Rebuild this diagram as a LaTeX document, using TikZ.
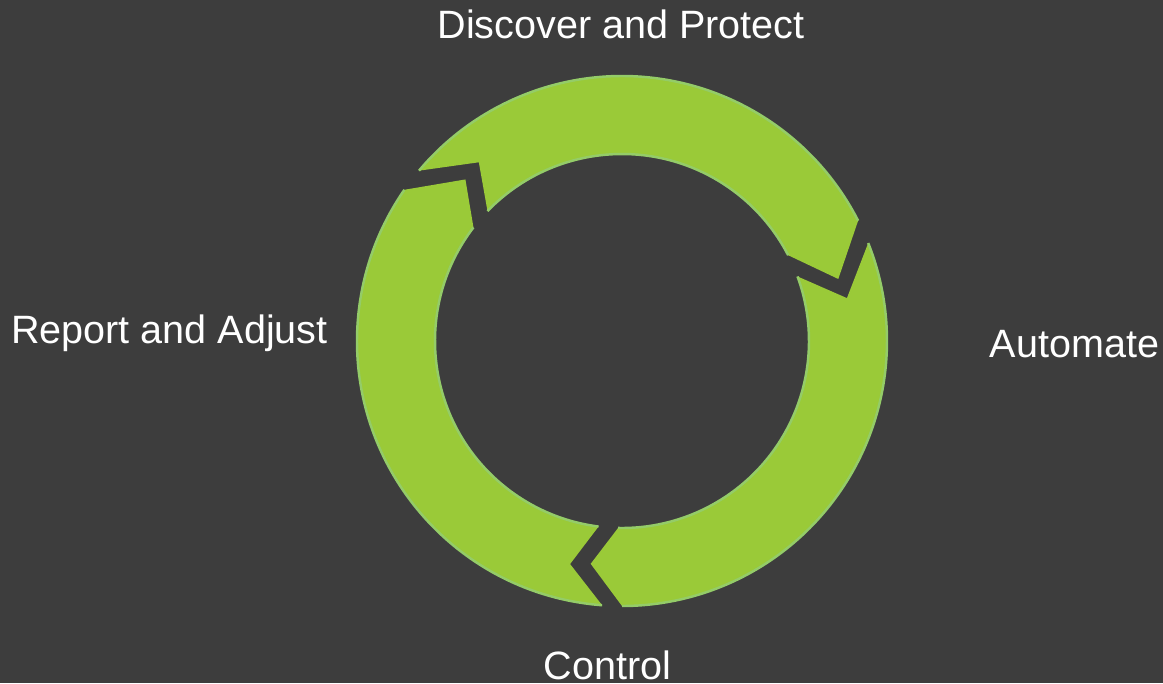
\documentclass[tikz,border=0pt]{standalone}
\usepackage{fontspec}
\setmainfont{Liberation Sans}
\definecolor{bggray}{RGB}{61,61,61}
\definecolor{ringgreen}{RGB}{154,202,56}
\definecolor{ringedge}{RGB}{148,204,104}
\tikzset{
  steplabel/.style={text=white, inner sep=0pt, anchor=base, font=\fontsize{11.25}{13.5}\selectfont},
  ringpart/.style={fill=ringgreen},
  ringline/.style={draw=ringedge, line width=0.7pt}
}
\begin{document}
\begin{tikzpicture}

		\def \rout {2.65};
		\def \rin {1.87};
		\def \rtip {2.25};
		\def \rnch {2.29};

		\fill[bggray] (0,0) rectangle (11.63,6.83);
		\coordinate (c) at (6.22,3.42);

		% tail out / head out / tip / head in / tail in / notch
		\foreach \tlo/\hdo/\tp/\hdi/\tli/\nch in {140/27/16/27.3/136/128.7, 21.7/-90/-98/-91.2/20.2/10.8, -94.3/-214.8/-225.9/-217.4/-97.2/-103.1} {
		    \fill[ringpart, shift={(c)}] (\tlo:\rout) arc[start angle=\tlo, end angle=\hdo, radius=\rout]
		        -- (\tp:\rtip) -- (\hdi:\rin) arc[start angle=\hdi, end angle=\tli, radius=\rin]
		        -- (\nch:\rnch) -- cycle;
		    \draw[ringline, shift={(c)}] (\tlo:\rout) arc[start angle=\tlo, end angle=\hdo, radius=\rout];
		    \draw[ringline, shift={(c)}] (\hdi:\rin) arc[start angle=\hdi, end angle=\tli, radius=\rin];
		}

		\node[steplabel] (dp) at (6.21,6.447) {Discover and Protect};
		\node[steplabel] (au) at (10.745,3.26) {Automate};
		\node[steplabel] (co) at (6.075,0.04) {Control};
		\node[steplabel] (ra) at (1.695,3.40) {Report and Adjust};
	\end{tikzpicture}
\end{document}
